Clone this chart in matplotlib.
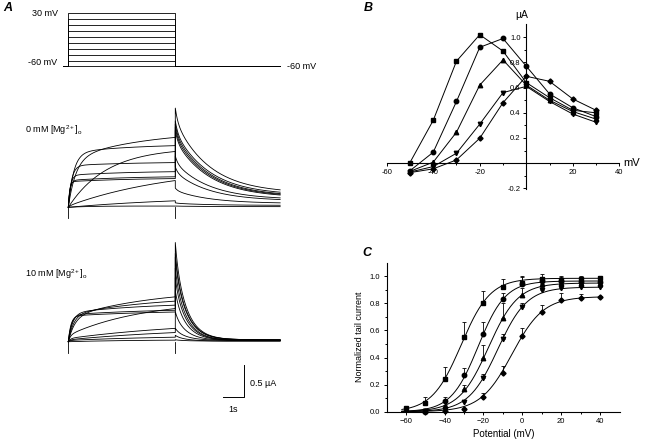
import matplotlib
matplotlib.use("Agg")
import matplotlib.pyplot as plt
import numpy as np

plt.rcParams['font.family'] = ['Liberation Sans', 'DejaVu Sans']
plt.rcParams['mathtext.fontset'] = 'custom'
plt.rcParams['mathtext.rm'] = 'Liberation Sans'
plt.rcParams['mathtext.it'] = 'Liberation Sans:italic'

W, H = 646, 444

# ---- panel A : voltage protocol and current traces ----
step_v = [-60, -50, -40, -30, -20, -10, 0, 10, 20, 30]   # mV
hold_v = -60

# 0 mM Mg: activation (fast / slow components, uA and s) and tail (peak, end level)
mg0_fast = [0.00, 0.00, 0.02, 0.00, 0.75, 0.85, 0.65, 0.50, 0.42, 0.40]
mg0_tfast = [0.1, 0.1, 0.1, 0.1, 0.35, 0.25, 0.15, 0.10, 0.08, 0.06]
mg0_slow = [0.02, 0.18, 0.63, 0.93, 0.45, 0.14, 0.06, 0.07, 0.07, 0.06]
mg0_tslow = [1.0, 6.0, 5.0, 1.8, 3.5, 3.0, 3.0, 3.0, 3.0, 3.0]
mg0_peak = [0.02, 0.07, 0.30, 0.63, 1.55, 1.35, 1.30, 1.25, 1.20, 0.80]
mg0_inf = [0.01, 0.03, 0.06, 0.10, 0.22, 0.19, 0.17, 0.16, 0.15, 0.12]
mg0_tau_tail = 1.6

# 10 mM Mg
mg10_fast = [0.00, 0.02, 0.03, 0.05, 0.10, 0.38, 0.42, 0.45, 0.42, 0.40]
mg10_tfast = [0.1, 0.1, 0.1, 0.1, 0.1, 0.3, 0.25, 0.2, 0.15, 0.12]
mg10_slow = [0.03, 0.08, 0.20, 0.28, 0.55, 0.45, 0.30, 0.17, 0.10, 0.09]
mg10_tslow = [3.0, 5.0, 6.0, 6.0, 3.5, 4.0, 4.0, 4.0, 4.0, 4.0]
mg10_peak = [0.03, 0.10, 0.21, 0.47, 1.55, 1.38, 1.32, 1.15, 1.00, 0.80]
mg10_inf = [0.01, 0.01, 0.02, 0.02, 0.03, 0.03, 0.03, 0.02, 0.02, 0.02]
mg10_tau_tail = 0.55

step_len = 5.0   # s
tail_len = 4.9   # s

# ---- panel B : I-V (uA) ----
vB = [-50, -40, -30, -20, -10, 0, 10, 20, 30]
iv_square = [0.005, 0.34, 0.81, 1.02, 0.89, 0.64, 0.52, 0.42, 0.40]
iv_circle = [-0.06, 0.087, 0.49, 0.92, 0.99, 0.77, 0.55, 0.44, 0.37]
iv_triangle = [-0.065, 0.008, 0.246, 0.62, 0.82, 0.62, 0.50, 0.41, 0.35]
iv_tridown = [-0.07, -0.027, 0.079, 0.31, 0.56, 0.61, 0.49, 0.39, 0.325]
iv_diamond = [-0.075, -0.045, 0.026, 0.198, 0.48, 0.69, 0.65, 0.51, 0.42]

# ---- panel C : normalized tail current ----
vC_sq = [-60, -50, -40, -30, -20, -10, 0, 10, 20, 30, 40]
nt_square = [0.03, 0.062, 0.241, 0.549, 0.80, 0.92, 0.952, 0.98, 0.975, 0.98, 0.99]
err_square = [0.0, 0.045, 0.09, 0.115, 0.09, 0.057, 0.05, 0.035, 0.03, 0.02, 0.01]
vC = [-50, -40, -30, -20, -10, 0, 10, 20, 30, 40]
nt_circle = [0.007, 0.08, 0.27, 0.573, 0.83, 0.945, 0.965, 0.965, 0.96, 0.96]
err_circle = [0.0, 0.025, 0.05, 0.09, 0.05, 0.05, 0.03, 0.03, 0.02, 0.02]
nt_triangle = [0.004, 0.04, 0.165, 0.394, 0.69, 0.861, 0.943, 0.95, 0.945, 0.945]
err_triangle = [0.0, 0.01, 0.03, 0.1, 0.11, 0.05, 0.03, 0.02, 0.02, 0.02]
nt_tridown = [0.002, 0.017, 0.069, 0.25, 0.54, 0.775, 0.90, 0.915, 0.92, 0.918]
err_tridown = [0.0, 0.005, 0.015, 0.03, 0.035, 0.03, 0.02, 0.03, 0.02, 0.02]
nt_diamond = [0.0, 0.005, 0.017, 0.11, 0.288, 0.559, 0.738, 0.824, 0.837, 0.844]
err_diamond = [0.0, 0.0, 0.01, 0.03, 0.05, 0.056, 0.05, 0.05, 0.035, 0.01]
# Boltzmann fits: V1/2 (mV), slope k (mV), max
fit_vh = [-31.5, -22.7, -17.4, -12.65, -5.3]
fit_k = [7.5, 7.0, 7.57, 7.55, 8.1]
fit_max = [0.985, 0.965, 0.95, 0.92, 0.85]
markers = ['s', 'o', '^', 'v', 'D']


fig = plt.figure(figsize=(W / 100, H / 100), dpi=100)


def px_axes(x0, y0, x1, y1):
    ax = fig.add_axes([x0 / W, 1 - y1 / H, (x1 - x0) / W, (y1 - y0) / H])
    return ax


def lims_from_px(ax, rect, x_px, x_val, x_scale, y_px, y_val, y_scale):
    # x_scale, y_scale in pixels per data unit
    x0, y0, x1, y1 = rect
    ax.set_xlim(x_val + (x0 - x_px) / x_scale, x_val + (x1 - x_px) / x_scale)
    ax.set_ylim(y_val - (y1 - y_px) / y_scale, y_val + (y_px - y0) / y_scale)


def ftext(x, y, s, **kw):
    fig.text(x / W, 1 - y / H, s, **kw)


T0_PX = 68.3     # pixel of t = 0
PX_PER_S = 21.4
PX_PER_UA = 64.0
LW = 0.6

# protocol
r = (0, 0, 330, 85)
axp = px_axes(*r)
axp.axis('off')
lims_from_px(axp, r, T0_PX, 0, PX_PER_S, 66.5, -60, 0.591)
for v in step_v:
    axp.plot([-0.25, 0, 0, step_len, step_len, step_len + tail_len],
             [hold_v, hold_v, v, v, hold_v, hold_v], color='k', lw=LW)
axp.text(-0.5, 30, '30 mV', ha='right', va='center', fontsize=6.5)
axp.text(-0.5, -60 + 6, '-60 mV', ha='right', va='center', fontsize=6.5)
axp.text(step_len + tail_len + 0.3, -60, '-60 mV', ha='left', va='center', fontsize=6.5)

t_step = np.linspace(0, step_len, 300)
t_tail = np.linspace(0, tail_len, 300)


def draw_traces(ax, fast, tfast, slow, tslow, peak, inf, tau_tail):
    for i in range(len(step_v)):
        i_step = fast[i] * (1 - np.exp(-t_step / tfast[i])) + \
            slow[i] * (1 - np.exp(-t_step / tslow[i]))
        i_tail = inf[i] + (peak[i] - inf[i]) * (0.15 * np.exp(-t_tail / 0.12) +
                                                0.85 * np.exp(-t_tail / tau_tail))
        tt = np.concatenate([t_step, step_len + t_tail])
        ii = np.concatenate([i_step, i_tail])
        ax.plot(tt, ii, color='k', lw=LW)
    ax.plot([0, 0], [-0.17, 0], color='k', lw=LW)
    ax.plot([step_len, step_len], [-0.17, 0], color='k', lw=LW)


# 0 mM Mg
r = (0, 90, 330, 235)
ax0 = px_axes(*r)
ax0.axis('off')
lims_from_px(ax0, r, T0_PX, 0, PX_PER_S, 207.3, 0, PX_PER_UA)
draw_traces(ax0, mg0_fast, mg0_tfast, mg0_slow, mg0_tslow, mg0_peak, mg0_inf, mg0_tau_tail)

# 10 mM Mg
r = (0, 235, 330, 444)
ax10 = px_axes(*r)
ax10.axis('off')
lims_from_px(ax10, r, T0_PX, 0, PX_PER_S, 341.7, 0, PX_PER_UA)
draw_traces(ax10, mg10_fast, mg10_tfast, mg10_slow, mg10_tslow, mg10_peak, mg10_inf, mg10_tau_tail)

# scale bar 1 s / 0.5 uA
sb_t, sb_i = 8.22, -0.86
ax10.plot([sb_t - 1, sb_t, sb_t], [sb_i, sb_i, sb_i + 0.5], color='k', lw=0.7)
ax10.text(sb_t + 0.25, sb_i + 0.2, '0.5 µA', ha='left', va='center', fontsize=6.5)
ax10.text(sb_t - 0.5, sb_i - 0.13, '1s', ha='center', va='top', fontsize=6.5)

ftext(25, 130, r'0 mM [Mg$^{2+}$]$_{\mathrm{o}}$', ha='left', va='center', fontsize=6.5)
ftext(25, 274, r'10 mM [Mg$^{2+}$]$_{\mathrm{o}}$', ha='left', va='center', fontsize=6.5)
ftext(3, 8, 'A', fontsize=9, fontstyle='italic', fontweight='bold', va='center')
ftext(364, 8, 'B', fontsize=9, fontstyle='italic', fontweight='bold', va='center')
ftext(362, 253, 'C', fontsize=9, fontstyle='italic', fontweight='bold', va='center')

# ---- panel B ----
r = (386.7, 24, 619.3, 189)
axB = px_axes(*r)
axB.patch.set_alpha(0)
axB.set_xlim(-60, 40)
axB.set_ylim(-0.205, 1.105)
for s in ['top', 'right']:
    axB.spines[s].set_visible(False)
axB.spines['left'].set_position(('data', 0))
axB.spines['bottom'].set_position(('data', 0))
for s in ['left', 'bottom']:
    axB.spines[s].set_linewidth(0.8)
for vals, m in zip([iv_square, iv_circle, iv_triangle, iv_tridown, iv_diamond], markers):
    axB.plot(vB, vals, color='k', lw=0.7, marker=m, ms=3.2 if m != 'D' else 2.6,
             mfc='k', mec='k')
xt = [-60, -40, -20, 0, 20, 40]
axB.set_xticks(xt)
axB.set_xticklabels([str(v) if v != 0 else '' for v in xt])
axB.set_xticks([-50, -30, -10, 10, 30], minor=True)
yt = [-0.2, 0.0, 0.2, 0.4, 0.6, 0.8, 1.0]
axB.set_yticks(yt)
axB.set_yticklabels(['%.1f' % v if v != 0 else '' for v in yt])
axB.set_yticks([-0.1, 0.1, 0.3, 0.5, 0.7, 0.9], minor=True)
axB.tick_params(which='both', direction='out', labelsize=5.5, width=0.7, pad=1.5)
axB.tick_params(which='major', length=2.5)
axB.tick_params(which='minor', length=1.5)
ftext(522, 15, 'µA', ha='center', va='center', fontsize=7.5)
ftext(623, 163.5, 'mV', ha='left', va='center', fontsize=8)

# ---- panel C ----
r = (386.7, 262.7, 620, 411.7)
axC = px_axes(*r)
axC.patch.set_alpha(0)
axC.set_xlim(-69.8, 50.3)
axC.set_ylim(0, 1.1)
axC.set_clip_on(False)
for s in ['top', 'right']:
    axC.spines[s].set_visible(False)
for s in ['left', 'bottom']:
    axC.spines[s].set_linewidth(0.8)
v_fit = np.linspace(-62, 40, 300)
series_C = [(vC_sq, nt_square, err_square), (vC, nt_circle, err_circle),
            (vC, nt_triangle, err_triangle), (vC, nt_tridown, err_tridown),
            (vC, nt_diamond, err_diamond)]
for (vv, nn, ee), m, vh, k, mx in zip(series_C, markers, fit_vh, fit_k, fit_max):
    axC.plot(v_fit, mx / (1 + np.exp((vh - v_fit) / k)), color='k', lw=0.7)
    axC.errorbar(vv, nn, yerr=[np.zeros(len(ee)), ee], fmt=m, color='k',
                 ms=3.2 if m != 'D' else 2.6, elinewidth=0.6, capsize=1.3,
                 capthick=0.6, clip_on=False)
axC.set_xticks([-60, -40, -20, 0, 20, 40])
axC.set_xticks([-50, -30, -10, 10, 30], minor=True)
axC.set_yticks([0.0, 0.2, 0.4, 0.6, 0.8, 1.0])
axC.set_yticklabels(['%.1f' % v for v in [0.0, 0.2, 0.4, 0.6, 0.8, 1.0]])
axC.set_yticks([0.1, 0.3, 0.5, 0.7, 0.9], minor=True)
axC.tick_params(which='both', direction='out', labelsize=5.5, width=0.7, pad=2)
axC.tick_params(which='major', length=2.5)
axC.tick_params(which='minor', length=1.5)
axC.set_xlabel('Potential (mV)', fontsize=7, labelpad=3)
axC.set_ylabel('Normalized tail current', fontsize=6.5, labelpad=4)

fig.savefig('out.png', dpi=100)
